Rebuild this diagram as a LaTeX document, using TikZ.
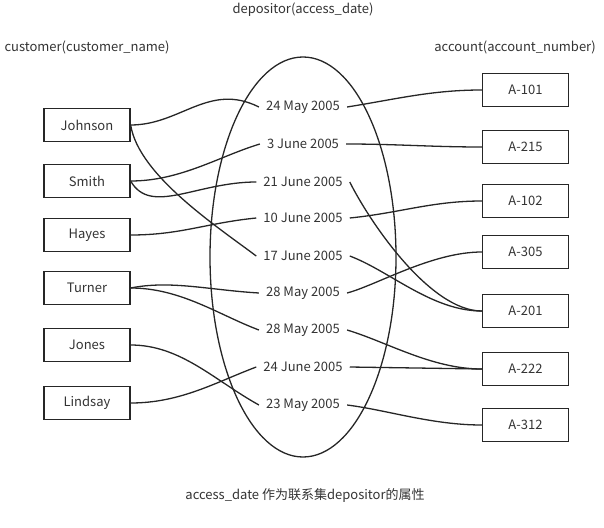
\documentclass[tikz,border=0pt]{standalone}
\usepackage{fontspec}
\setmainfont{Noto Sans CJK SC}
\begin{document}
\begin{tikzpicture}[
			x=1pt, y=-1pt,
			every node/.style={font=\fontsize{13}{15}\selectfont, text=black!80},
			box/.style={draw=black!85, line width=1.3pt, minimum width=86pt, minimum height=33pt, inner sep=0pt},
			date/.style={inner xsep=7pt, inner ysep=2pt},
			link/.style={line width=1.3pt, draw=black!85},
			]
			\useasboundingbox (0,0) rectangle (604,527);

			% --- Relationship set (ellipse) ---
			\draw[link] (303,257) ellipse [x radius=93, y radius=200];

			% --- Titles ---
			\node (title) at (303,10) {depositor(access\_date)};
			\node (ctitle) at (87,47) {customer(customer\_name)};
			\node (atitle) at (515,47) {account(account\_number)};
			\node (caption) at (305,495) {access\_date 作为联系集depositor的属性};

			% --- Customers ---
			\node[box] (johnson) at (87,125) {Johnson};
			\node[box] (smith) at (87,181) {Smith};
			\node[box] (hayes) at (87,235) {Hayes};
			\node[box] (turner) at (87,288) {Turner};
			\node[box] (jones) at (87,345) {Jones};
			\node[box] (lindsay) at (87,403) {Lindsay};

			% --- Accounts ---
			\node[box] (a101) at (525.5,90) {A-101};
			\node[box] (a215) at (525.5,147) {A-215};
			\node[box] (a102) at (525.5,201) {A-102};
			\node[box] (a305) at (525.5,252) {A-305};
			\node[box] (a201) at (525.5,311) {A-201};
			\node[box] (a222) at (525.5,369) {A-222};
			\node[box] (a312) at (525.5,425) {A-312};

			% --- Access dates ---
			\node[date] (d1) at (303,107) {24 May 2005};
			\node[date] (d2) at (303,144) {3 June 2005};
			\node[date] (d3) at (303,182) {21 June 2005};
			\node[date] (d4) at (303,218) {10 June 2005};
			\node[date] (d5) at (303,256) {17 June 2005};
			\node[date] (d6) at (303,293) {28 May 2005};
			\node[date] (d7) at (303,330) {28 May 2005};
			\node[date] (d8) at (303,367) {24 June 2005};
			\node[date] (d9) at (303,405) {23 May 2005};

			% --- customer -> date ---
			\draw[link] (johnson.east) .. controls +(50,0) and +(-50,-25) .. (d1.west);
			\draw[link] (johnson.east) .. controls +(8,50) and +(-40,-30) .. (d5.west);
			\draw[link] (smith.east) .. controls +(50,0) and +(-40,12) .. (d2.west);
			\draw[link] (smith.east) .. controls +(20,35) and +(-60,0) .. (d3.west);
			\draw[link] (hayes.east) .. controls +(50,0) and +(-50,5) .. (d4.west);
			\draw[link] (turner.east) .. controls +(40,-8) and +(-50,-3) .. (d6.west);
			\draw[link] (turner.east) .. controls +(50,0) and +(-40,-15) .. (d7.west);
			\draw[link] (jones.east) .. controls +(50,0) and +(-45,-25) .. (d9.west);
			\draw[link] (lindsay.east) .. controls +(50,0) and +(-40,15) .. (d8.west);

			% --- date -> account ---
			\draw[link] (d1.east) .. controls +(50,-8) and +(-50,0) .. (a101.west);
			\draw[link] (d2.east) .. controls +(50,0) and +(-50,0) .. (a215.west);
			\draw[link] (d3.east) .. controls +(20,40) and +(-52,0) .. (a201.west);
			\draw[link] (d4.east) .. controls +(50,-5) and +(-50,0) .. (a102.west);
			\draw[link] (d5.east) .. controls +(40,15) and +(-50,0) .. (a201.west);
			\draw[link] (d6.east) .. controls +(30,-8) and +(-50,0) .. (a305.west);
			\draw[link] (d7.east) .. controls +(40,12) and +(-50,0) .. (a222.west);
			\draw[link] (d8.east) -- (a222.west);
			\draw[link] (d9.east) .. controls +(40,5) and +(-50,0) .. (a312.west);

		\end{tikzpicture}
\end{document}
